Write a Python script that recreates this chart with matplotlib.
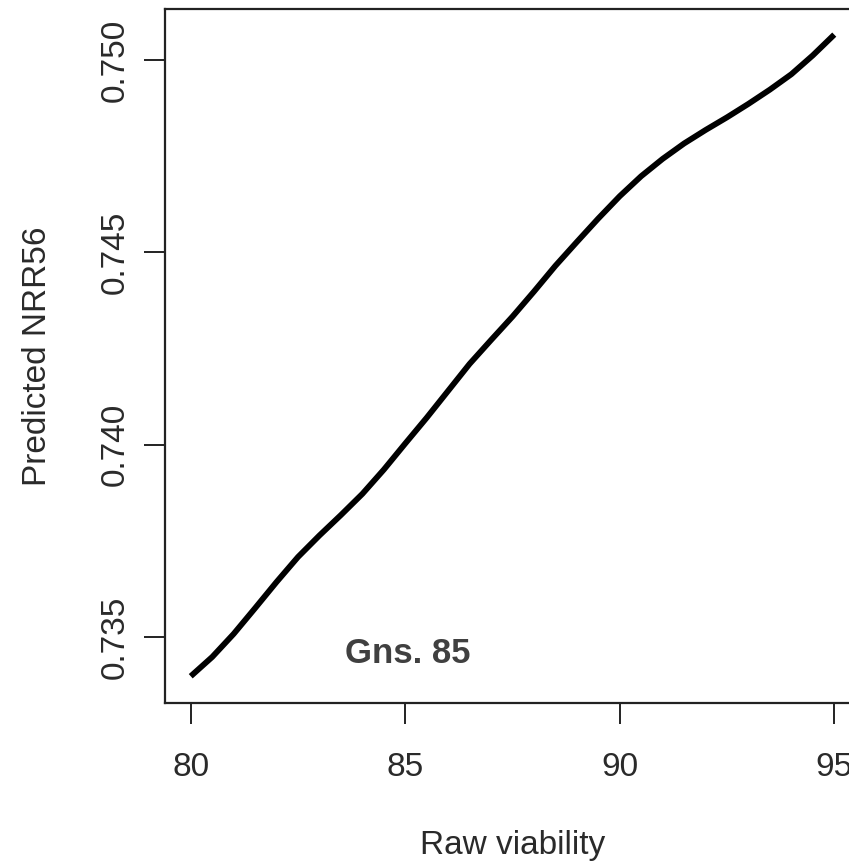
import matplotlib
matplotlib.use("Agg")
import matplotlib.pyplot as plt

# curve
raw_viability = [80, 80.5, 81, 81.5, 82, 82.5, 83, 83.5, 84, 84.5, 85, 85.5, 86, 86.5,
                 87, 87.5, 88, 88.5, 89, 89.5, 90, 90.5, 91, 91.5, 92, 92.5, 93, 93.5,
                 94, 94.5, 95]
pred_nrr56 = [0.73398, 0.73448, 0.73508, 0.73575, 0.73643, 0.73708, 0.73764, 0.73817,
              0.73872, 0.73935, 0.74003, 0.74070, 0.74140, 0.74210, 0.74272, 0.74333,
              0.74398, 0.74465, 0.74527, 0.74588, 0.74646, 0.74698, 0.74743, 0.74783,
              0.74818, 0.74851, 0.74886, 0.74923, 0.74963, 0.75012, 0.75066]
xticks = [80, 85, 90, 95]
yticks = [0.735, 0.740, 0.745, 0.750]
ytick_labels = ["0.735", "0.740", "0.745", "0.750"]

W, H = 849, 865
plt.rcParams["font.family"] = ["Liberation Sans", "DejaVu Sans"]

fig = plt.figure(figsize=(W / 100, H / 100), dpi=100)
# box runs past the right edge like the cropped original
left, right, top, bottom = 165, 860, 9, 703
ax = fig.add_axes([left / W, (H - bottom) / H, (right - left) / W, (bottom - top) / H])

ax.plot(raw_viability, pred_nrr56, color="black", lw=4.2,
        solid_capstyle="butt", solid_joinstyle="round")

ax.set_xlim(79.4, 95.6)
# 0.750 sits at y=60 px, 0.735 at y=637 px
py_per_unit = (637 - 60) / 0.015
ax.set_ylim(0.735 - (bottom - 637) / py_per_unit, 0.750 + (60 - top) / py_per_unit)

ax.set_xticks(xticks)
ax.set_xticklabels([str(v) for v in xticks])
ax.set_yticks(yticks)
ax.set_yticklabels(ytick_labels, rotation=90, va="center")

txt = "#2a2a2a"
for s in ax.spines.values():
    s.set_linewidth(1.6)
    s.set_color("#222222")
ax.tick_params(axis="both", length=15, width=1.4, color="#222222",
               labelsize=24, labelcolor=txt)
ax.tick_params(axis="x", pad=20)
ax.tick_params(axis="y", pad=10)

ax.set_xlabel("Raw viability", fontsize=24, color=txt, labelpad=34)
ax.set_ylabel("Predicted NRR56", fontsize=24, color=txt, labelpad=33)

ax.text(85.07, 0.73457, "Gns. 85", fontsize=25, fontweight="bold",
        color="#404040", ha="center", va="center")

fig.savefig("out.png", dpi=100)
